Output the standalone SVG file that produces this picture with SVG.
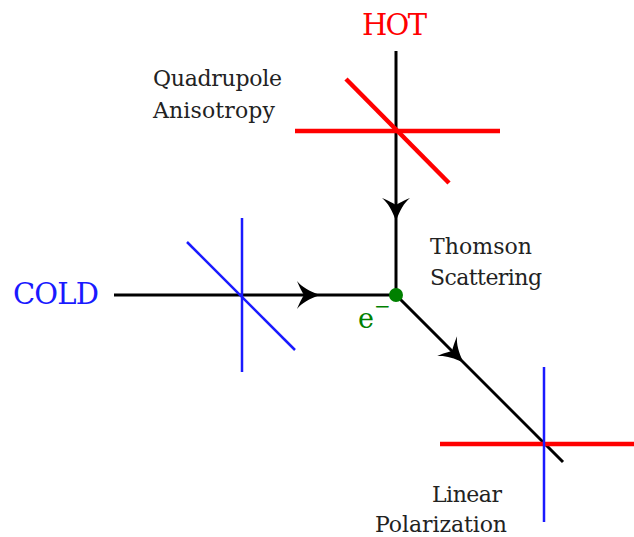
<svg xmlns="http://www.w3.org/2000/svg" width="634" height="537" viewBox="0 0 634 537">
<style>
text{font-family:"DejaVu Serif","Liberation Serif",serif;}
.lbl{font-size:22px;fill:#222;}
.big{font-size:29px;}
.beam{stroke:#000;stroke-width:3;fill:none;stroke-linecap:butt;}
.red{stroke:#ff0000;stroke-width:4.5;fill:none;}
.blue{stroke:#1a1aff;stroke-width:2.5;fill:none;}
</style>
<defs>
<path id="ah" d="M2,0 C-9,-4 -16,-8 -21,-14 C-18,-7 -16,-3 -14,0 C-16,3 -18,7 -21,14 C-16,8 -9,4 2,0 Z" fill="#000"/>
</defs>
<g id="connectors">
<line class="beam" x1="396" y1="51" x2="396" y2="295"/>
<line class="beam" x1="114" y1="295" x2="396" y2="295"/>
<line class="beam" x1="396" y1="295" x2="563" y2="462"/>
<use href="#ah" transform="translate(396,219) rotate(90)"/>
<use href="#ah" transform="translate(318,295)"/>
<use href="#ah" transform="translate(462,361) rotate(45)"/>
</g>
<g id="hot">
<text class="big" x="394.5" y="35" fill="#ff0000" text-anchor="middle" textLength="65">HOT</text>
</g>
<g id="quadrupole">
<line class="red" x1="295" y1="131" x2="500" y2="131"/>
<line class="red" x1="346" y1="79" x2="449" y2="183"/>
<text class="lbl" x="153" y="86" textLength="129">Quadrupole</text>
<text class="lbl" x="153" y="118" textLength="122">Anisotropy</text>
</g>
<g id="cold">
<text class="big" x="13" y="304" fill="#1a1aff" textLength="86">COLD</text>
<line class="blue" x1="242" y1="218" x2="242" y2="372"/>
<line class="blue" x1="187" y1="242" x2="295" y2="350"/>
</g>
<g id="electron">
<circle cx="396" cy="295" r="7" fill="#008000"/>
<text x="358" y="328" font-size="27" fill="#008000">e<tspan dy="-15" font-size="20">−</tspan></text>
<text class="lbl" x="430" y="254" textLength="102">Thomson</text>
<text class="lbl" x="430" y="285" textLength="112">Scattering</text>
</g>
<g id="polarization">
<line class="red" x1="440" y1="444" x2="634" y2="444"/>
<line class="blue" x1="544" y1="367" x2="544" y2="522"/>
<text class="lbl" x="432" y="502" textLength="70">Linear</text>
<text class="lbl" x="375" y="532" textLength="132">Polarization</text>
</g>
</svg>
